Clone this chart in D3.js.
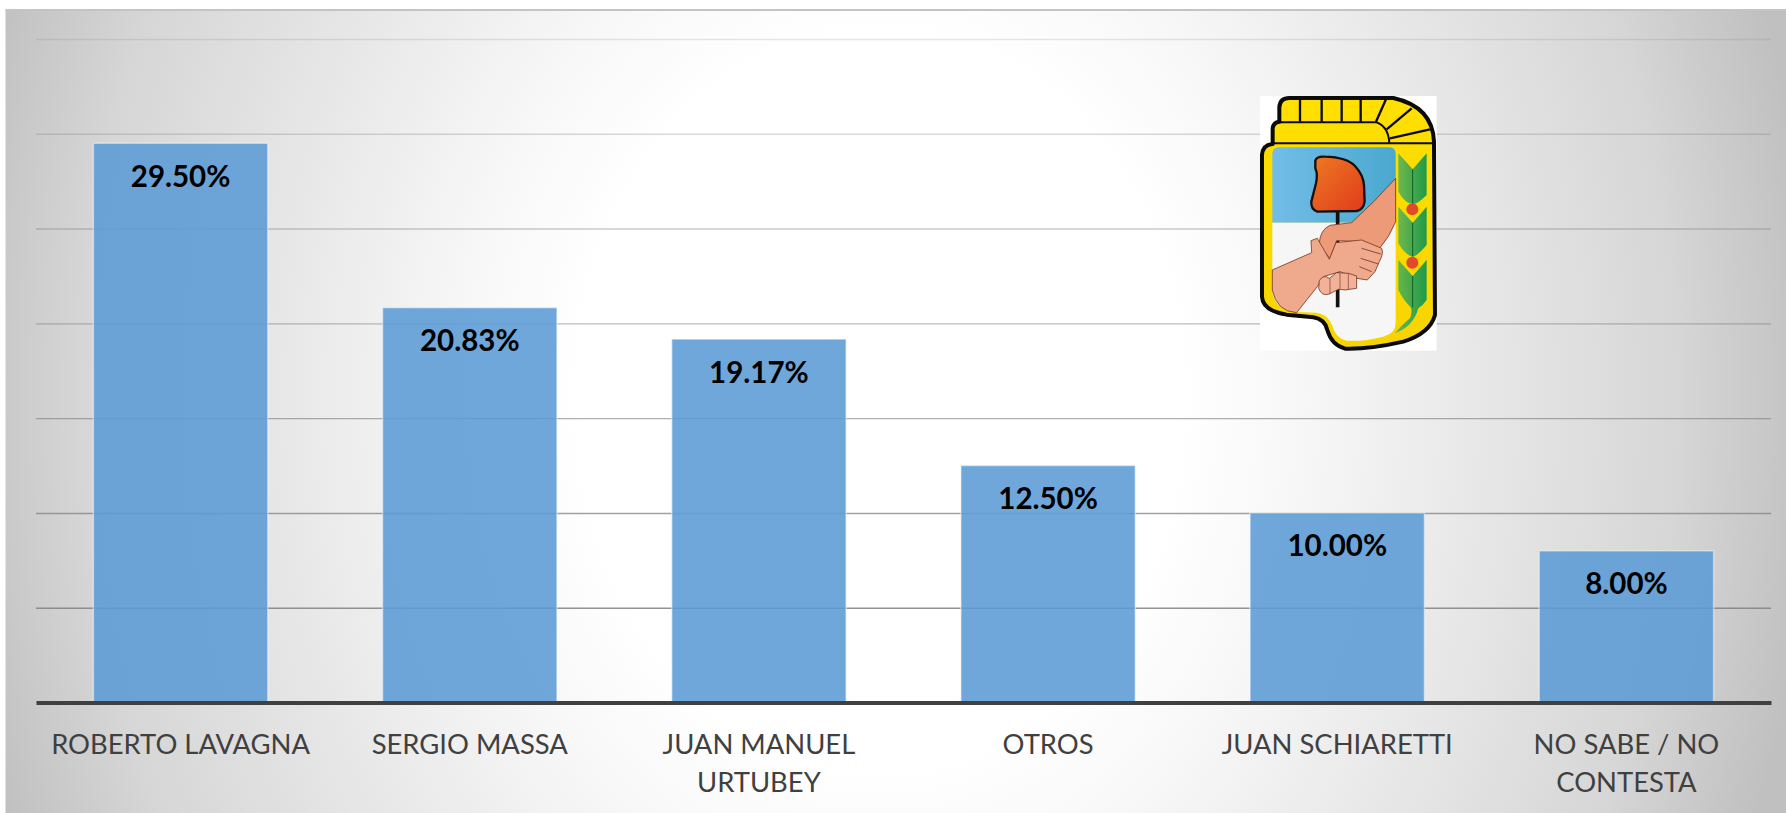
<!DOCTYPE html>
<html>
<head>
<meta charset="utf-8">
<script src="https://cdn.jsdelivr.net/npm/d3@7"></script>
<style>
  html, body { margin: 0; padding: 0; background: #fff; }
  svg { display: block; }
</style>
</head>
<body>
<div id="chart"></div>
<script>
const categories = ["ROBERTO LAVAGNA", "SERGIO MASSA", "JUAN MANUEL URTUBEY", "OTROS", "JUAN SCHIARETTI", "NO SABE / NO CONTESTA"];
const values = [29.5, 20.83, 19.17, 12.5, 10, 8];
const gridTicks = [5, 10, 15, 20, 25, 30, 35];

const width = 1786, height = 813;
const plot = { left: 36, right: 1771, top: 39, bottom: 702.5 };

const svg = d3.select("#chart").append("svg")
    .attr("width", width)
    .attr("height", height);
const defs = svg.append("defs");

//=================================================
// Background
//=================================================
const bg = defs.append("radialGradient")
    .attr("id", "bgGrad")
    .attr("gradientUnits", "userSpaceOnUse")
    .attr("cx", 0).attr("cy", 0).attr("r", 1)
    .attr("gradientTransform", "translate(880,400) scale(940,1150)");
[[0, "#ffffff"], [0.32, "#ffffff"], [0.45, "#f7f7f7"], [0.62, "#e9e9e9"], [0.85, "#d6d6d6"], [1, "#c0c0c0"]].forEach(s => {
    bg.append("stop").attr("offset", s[0]).attr("stop-color", s[1]);
});
svg.append("rect")
    .attr("x", 5.5).attr("y", 9)
    .attr("width", width - 5.5).attr("height", height - 9)
    .attr("fill", "url(#bgGrad)");
svg.append("line")
    .attr("x1", 5.5).attr("x2", width).attr("y1", 10).attr("y2", 10)
    .attr("stroke", "#c4c4c4").attr("stroke-width", 2);

//=================================================
// Scales
//=================================================
const x = d3.scaleBand().domain(categories).range([plot.left, plot.right]).paddingInner(0.397).paddingOuter(0.1985);
const y = d3.scaleLinear().domain([0, 35]).range([plot.bottom, plot.top]);

//=================================================
// Gridlines
//=================================================
const gridFade = d3.scaleLinear().domain([5, 35]).range([0.85, 0.2]);
const grid = svg.append("g")
    .attr("transform", "translate(" + plot.left + ",0)")
    .call(d3.axisLeft(y).tickValues(gridTicks).tickSize(-(plot.right - plot.left)).tickFormat(""));
grid.select(".domain").remove();
grid.selectAll(".tick line")
    .attr("stroke", "#808080")
    .attr("stroke-width", 1.4)
    .attr("stroke-opacity", d => gridFade(d));

//=================================================
// Bars
//=================================================
svg.append("g").selectAll("rect")
    .data(values)
    .join("rect")
    .attr("x", (d, i) => x(categories[i]))
    .attr("y", d => y(d))
    .attr("width", x.bandwidth())
    .attr("height", d => y(0) - y(d))
    .attr("fill", "#5b9bd5")
    .attr("fill-opacity", 0.88)
    .attr("stroke", "#ffffff")
    .attr("stroke-opacity", 0.45)
    .attr("stroke-width", 1.5);

svg.append("g").selectAll("text")
    .data(values)
    .join("text")
    .attr("x", (d, i) => x(categories[i]) + x.bandwidth() / 2)
    .attr("y", d => y(d) + 43.5)
    .attr("text-anchor", "middle")
    .attr("font-family", "Lato")
    .attr("font-weight", 700)
    .attr("font-size", 29.5)
    .attr("fill", "#000")
    .text(d => d.toFixed(2) + "%");

//=================================================
// X axis
//=================================================
const axisX = svg.append("g")
    .attr("transform", "translate(0," + plot.bottom + ")")
    .call(d3.axisBottom(x).tickSize(0).tickPadding(0));
axisX.select(".domain")
    .attr("stroke", "#404040")
    .attr("stroke-width", 4);
axisX.selectAll(".tick text").each(function (d) {
    const t = d3.select(this);
    let lines = [d];
    if (d === "JUAN MANUEL URTUBEY") lines = ["JUAN MANUEL", "URTUBEY"];
    if (d === "NO SABE / NO CONTESTA") lines = ["NO SABE / NO", "CONTESTA"];
    t.text(null)
        .attr("font-family", "Lato")
        .attr("font-size", 27.4)
        .attr("fill", "#404040")
        .attr("y", 0);
    lines.forEach((l, i) => {
        t.append("tspan").attr("x", 0).attr("y", 51 + i * 38).attr("dy", 0).text(l);
    });
});

//=================================================
// Party shield, traced in crop pixels
//=================================================
const yellow = defs.append("linearGradient").attr("id", "shieldYellow").attr("x1", 0).attr("y1", 0).attr("x2", 0).attr("y2", 1);
yellow.append("stop").attr("offset", 0).attr("stop-color", "#ffe000");
yellow.append("stop").attr("offset", 1).attr("stop-color", "#f7d400");
const sky = defs.append("linearGradient").attr("id", "shieldSky").attr("x1", 0).attr("y1", 0).attr("x2", 1).attr("y2", 0);
sky.append("stop").attr("offset", 0).attr("stop-color", "#72bde8");
sky.append("stop").attr("offset", 1).attr("stop-color", "#4aa8cf");
const cap = defs.append("linearGradient").attr("id", "shieldCap").attr("x1", 0).attr("y1", 0).attr("x2", 1).attr("y2", 1);
cap.append("stop").attr("offset", 0).attr("stop-color", "#ee7a22");
cap.append("stop").attr("offset", 1).attr("stop-color", "#e03a1c");
const leaf = defs.append("linearGradient").attr("id", "shieldLeaf").attr("x1", 0).attr("y1", 0).attr("x2", 1).attr("y2", 0);
leaf.append("stop").attr("offset", 0).attr("stop-color", "#6fb84a");
leaf.append("stop").attr("offset", 1).attr("stop-color", "#1f9a4a");

const logo = svg.append("g").attr("transform", "translate(1230,70) scale(0.3333)");
logo.append("rect").attr("x", 90).attr("y", 78).attr("width", 530).attr("height", 764).attr("fill", "#fff");
// outer shield
logo.append("path")
    .attr("d", "M148,112 Q150,84 178,84 L490,84 Q608,110 612,215 L615,735 Q600,790 520,815 Q420,838 345,836 Q305,825 292,780 Q285,748 250,742 L170,734 Q98,722 96,680 L96,255 Q98,225 128,222 L128,175 Q130,157 148,155 Z")
    .attr("fill", "url(#shieldYellow)")
    .attr("stroke", "#0a0a0a")
    .attr("stroke-width", 12)
    .attr("stroke-linejoin", "round");
// sun rays and band
const rays = "M210,88 L210,155 M275,88 L275,155 M335,88 L335,155 M392,88 L392,155 M468,88 L438,155 M545,115 L470,178 M600,178 L480,205";
logo.append("path").attr("d", rays).attr("fill", "none").attr("stroke", "#0a0a0a").attr("stroke-width", 7);
logo.append("path").attr("d", "M135,157 L440,157 Q475,170 478,218").attr("fill", "none").attr("stroke", "#0a0a0a").attr("stroke-width", 6);
logo.append("path").attr("d", "M128,220 L612,220").attr("fill", "none").attr("stroke", "#0a0a0a").attr("stroke-width", 6);
// field: sky half and white half
logo.append("path")
    .attr("d", "M127,458 L127,252 Q127,232 147,232 L478,232 Q497,232 497,252 L497,458 Z")
    .attr("fill", "url(#shieldSky)");
logo.append("path")
    .attr("d", "M127,458 L497,458 L497,760 Q497,790 460,800 Q400,815 350,812 Q318,805 308,770 Q298,735 260,728 L200,726 Q130,720 127,660 Z")
    .attr("fill", "#f6f6f6");
// pole
logo.append("path").attr("d", "M323,420 L323,712").attr("stroke", "#111").attr("stroke-width", 11);
// cap
logo.append("path")
    .attr("d", "M256,272 Q260,258 285,260 Q350,262 375,288 Q400,315 402,345 L404,395 Q400,420 380,423 L262,425 Q242,418 244,395 L258,340 Q264,312 256,295 Z")
    .attr("fill", "url(#shieldCap)")
    .attr("stroke", "#111")
    .attr("stroke-width", 7)
    .attr("stroke-linejoin", "round");
// arms
logo.append("path")
    .attr("d", "M497,325 L497,455 Q480,500 445,540 L395,515 L320,512 L300,565 Q280,545 268,520 Q270,480 300,466 L365,458 Q430,400 497,325 Z")
    .attr("fill", "#ec9a78")
    .attr("stroke", "#7a3a20")
    .attr("stroke-width", 2.5);
logo.append("path")
    .attr("d", "M127,600 L245,548 L243,512 L262,505 L298,568 L318,518 L395,510 L455,535 Q462,550 448,575 L435,605 L412,630 L380,625 L330,605 L280,620 L262,650 Q230,690 200,728 Q140,725 127,660 Z")
    .attr("fill", "#efa98c")
    .attr("stroke", "#7a3a20")
    .attr("stroke-width", 2.5);
logo.append("path").attr("d", "M395,535 L452,552 M392,565 L445,582 M388,590 L425,605").attr("fill", "none").attr("stroke", "#8a4a30").attr("stroke-width", 3);
// fist on the pole
logo.append("path")
    .attr("d", "M268,632 Q280,612 298,625 L320,608 L355,610 L380,618 L380,655 L345,660 L325,658 L298,672 Q275,680 266,655 Z")
    .attr("fill", "#f2b299")
    .attr("stroke", "#7a3a20")
    .attr("stroke-width", 2.5);
logo.append("path").attr("d", "M300,625 L300,672 M330,610 L330,658 M355,610 L355,660").attr("stroke", "#7a3a20").attr("stroke-width", 2);
// laurel
["M505,250 L548,298 L590,250 L590,375 Q560,405 548,402 Q525,400 505,365 Z",
 "M505,410 L548,458 L590,410 L590,525 Q560,560 548,560 Q525,555 505,520 Z",
 "M505,570 L548,618 L590,570 L590,690 Q580,705 565,715 Q550,770 495,790 Q510,770 540,745 Q548,725 542,712 Q520,690 505,660 Z"
].forEach(d => {
    logo.append("path").attr("d", d).attr("fill", "url(#shieldLeaf)");
});
logo.append("path").attr("d", "M548,298 L548,402 M548,458 L548,560 M548,618 L548,712").attr("stroke", "#0f5f2a").attr("stroke-width", 3);
logo.selectAll("circle.berry").data([418, 578]).join("circle")
    .attr("class", "berry")
    .attr("cx", 547).attr("cy", d => d).attr("r", 18)
    .attr("fill", "#e0492a");
</script>
</body>
</html>
